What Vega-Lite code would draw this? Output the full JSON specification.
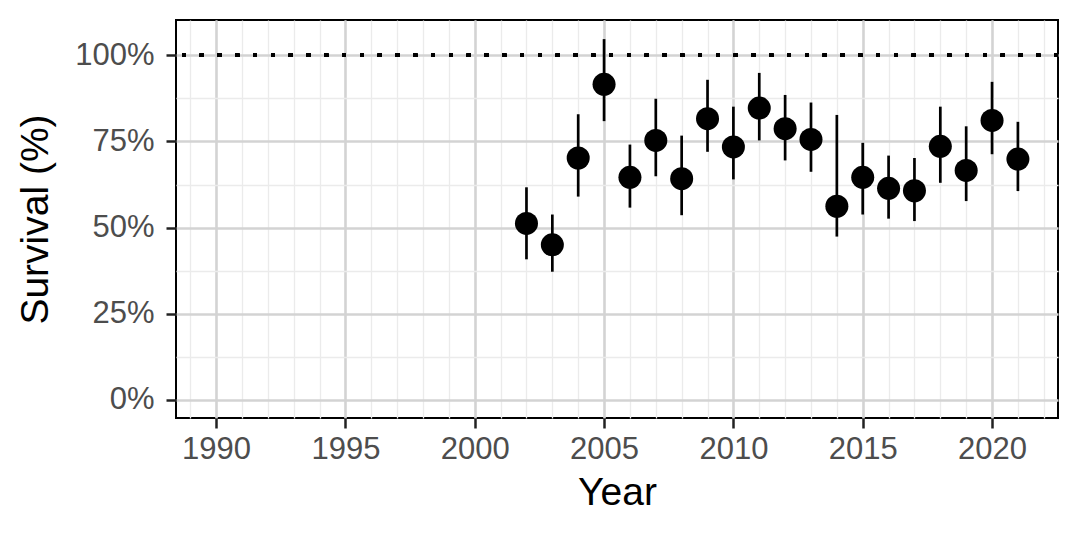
{
  "$schema": "https://vega.github.io/schema/vega-lite/v6.json",
  "width": 882,
  "height": 398,
  "autosize": {"type": "none"},
  "padding": {"left": 176, "top": 20, "right": 22, "bottom": 122},
  "background": "white",
  "config": {
    "view": {"stroke": "black", "strokeWidth": 2},
    "axis": {
      "labelFont": "Liberation Sans",
      "titleFont": "Liberation Sans",
      "labelFontSize": 31,
      "titleFontSize": 39,
      "titleFontWeight": "normal",
      "labelColor": "#4D4D4D",
      "titleColor": "black",
      "tickColor": "#222222",
      "tickWidth": 2.5,
      "tickSize": 10,
      "domain": false
    }
  },
  "data": {
    "values": [
      {"year": 2002, "s": 51.2, "lo": 40.8, "hi": 61.7},
      {"year": 2003, "s": 45.0, "lo": 37.2, "hi": 53.8},
      {"year": 2004, "s": 70.2, "lo": 59.0, "hi": 82.9},
      {"year": 2005, "s": 91.6, "lo": 80.9, "hi": 104.7},
      {"year": 2006, "s": 64.6, "lo": 55.8, "hi": 74.1},
      {"year": 2007, "s": 75.3, "lo": 64.9, "hi": 87.4},
      {"year": 2008, "s": 64.2, "lo": 53.6, "hi": 76.7},
      {"year": 2009, "s": 81.6, "lo": 72.0, "hi": 92.9},
      {"year": 2010, "s": 73.4, "lo": 64.0, "hi": 85.1},
      {"year": 2011, "s": 84.7, "lo": 75.3, "hi": 94.9},
      {"year": 2012, "s": 78.7, "lo": 69.5, "hi": 88.5},
      {"year": 2013, "s": 75.6, "lo": 66.2, "hi": 86.3},
      {"year": 2014, "s": 56.2, "lo": 47.4, "hi": 82.7},
      {"year": 2015, "s": 64.6, "lo": 53.8, "hi": 74.6},
      {"year": 2016, "s": 61.4, "lo": 52.6, "hi": 70.9},
      {"year": 2017, "s": 60.7, "lo": 51.9, "hi": 70.2},
      {"year": 2018, "s": 73.6, "lo": 63.0, "hi": 85.1},
      {"year": 2019, "s": 66.6, "lo": 57.7, "hi": 79.4},
      {"year": 2020, "s": 81.1, "lo": 71.3, "hi": 92.3},
      {"year": 2021, "s": 69.9, "lo": 60.6, "hi": 80.7}
    ]
  },
  "resolve": {"axis": {"x": "independent", "y": "independent"}},
  "layer": [
    {
      "mark": {"type": "point", "opacity": 0},
      "encoding": {
        "x": {
          "field": "year", "type": "quantitative",
          "scale": {"domain": [1988.45, 2022.55], "nice": false, "zero": false},
          "axis": {"orient": "top", "values": [1989,1990,1991,1992,1993,1994,1995,1996,1997,1998,1999,2000,2001,2002,2003,2004,2005,2006,2007,2008,2009,2010,2011,2012,2013,2014,2015,2016,2017,2018,2019,2020,2021,2022], "labels": false, "ticks": false, "title": null, "grid": true, "gridColor": "#EBEBEB", "gridWidth": 1.3}
        },
        "y": {
          "field": "s", "type": "quantitative",
          "scale": {"domain": [-5.25, 110.25], "nice": false, "zero": false},
          "axis": {"orient": "right", "values": [12.5, 37.5, 62.5, 87.5], "labels": false, "ticks": false, "title": null, "grid": true, "gridColor": "#EBEBEB", "gridWidth": 1.3}
        }
      }
    },
    {
      "mark": {"type": "rule", "color": "black", "strokeWidth": 2.7},
      "encoding": {
        "x": {
          "field": "year", "type": "quantitative",
          "scale": {"domain": [1988.45, 2022.55], "nice": false, "zero": false},
          "axis": {"orient": "bottom", "values": [1990, 1995, 2000, 2005, 2010, 2015, 2020], "format": "d", "title": "Year", "grid": true, "gridColor": "#D3D3D3", "gridWidth": 2.6, "labelPadding": 6, "titlePadding": 9}
        },
        "y": {
          "field": "lo", "type": "quantitative",
          "scale": {"domain": [-5.25, 110.25], "nice": false, "zero": false},
          "axis": {"orient": "left", "values": [0, 25, 50, 75, 100], "labelExpr": "datum.value + '%'", "title": "Survival (%)", "grid": true, "gridColor": "#D3D3D3", "gridWidth": 2.6, "labelPadding": 12, "titlePadding": 19}
        },
        "y2": {"field": "hi"}
      }
    },
    {
      "mark": {"type": "rule", "color": "black", "strokeWidth": 3.6, "strokeDash": [3.8, 14]},
      "encoding": {
        "y": {"datum": 100, "type": "quantitative", "scale": {"domain": [-5.25, 110.25], "nice": false, "zero": false}, "axis": null}
      }
    },
    {
      "mark": {"type": "circle", "color": "black", "opacity": 1, "size": 530},
      "encoding": {
        "x": {"field": "year", "type": "quantitative", "scale": {"domain": [1988.45, 2022.55], "nice": false, "zero": false}, "axis": null},
        "y": {"field": "s", "type": "quantitative", "scale": {"domain": [-5.25, 110.25], "nice": false, "zero": false}, "axis": null}
      }
    }
  ]
}
